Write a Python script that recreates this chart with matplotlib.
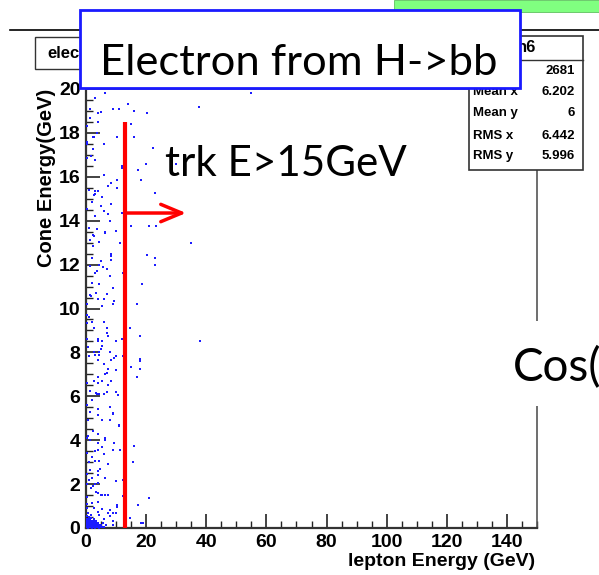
import matplotlib
matplotlib.use('Agg')
import matplotlib.pyplot as plt
import numpy as np
from matplotlib.patches import Rectangle
from matplotlib.lines import Line2D

W, H = 599, 575

# (lepton energy, cone energy), GeV
upper = [(6.4, 19.8), (3.0, 19.6), (10.9, 19.1), (13.9, 19.3), (8.9, 19.1), (16.0, 19.0),
         (1.4, 19.1), (5.0, 18.95), (4.0, 18.9), (20.4, 18.9), (1.3, 18.7), (4.0, 18.5),
         (0.3, 18.3), (15.0, 18.4), (3.8, 18.0), (2.8, 17.8), (2.4, 17.8), (10.4, 17.8),
         (16.0, 17.8), (0.2, 17.6), (0.2, 17.5), (5.9, 17.5), (22.4, 17.3), (2.4, 17.25),
         (0.3, 16.85), (1.6, 16.95), (3.0, 16.75), (11.9, 16.5), (11.9, 16.4), (20.0, 16.6),
         (17.4, 16.3), (6.0, 16.1), (10.4, 15.85), (18.4, 15.85), (8.3, 15.7), (7.4, 15.6),
         (10.4, 15.5), (1.0, 15.4), (3.0, 15.35), (3.9, 15.35), (3.0, 15.2), (2.8, 15.15),
         (5.3, 15.1), (22.9, 15.25), (2.0, 14.85), (8.4, 14.75), (0.4, 14.55), (5.0, 14.65),
         (5.9, 14.45), (7.4, 14.3), (11.9, 14.35), (3.0, 14.2), (8.0, 14.0), (1.0, 13.65),
         (3.5, 13.6), (6.4, 13.5), (10.0, 13.55), (15.0, 13.75), (21.0, 13.75), (23.4, 13.75),
         (2.4, 13.35)]

middle = [(2.5, 13.3), (6.3, 13.45), (1.3, 13.1), (4.4, 13.05), (11.4, 13.0), (2.4, 12.85),
          (8.4, 12.5), (8.4, 12.4), (20.4, 12.45), (22.8, 12.3), (1.9, 12.3), (8.4, 12.2),
          (4.9, 12.15), (22.8, 12.0), (1.2, 11.95), (4.3, 12.0), (5.7, 11.9), (6.9, 11.8),
          (3.7, 11.7), (3.1, 11.6), (12.3, 11.6), (8.0, 11.5), (1.9, 11.15), (4.4, 11.1),
          (18.5, 11.1), (8.9, 10.95), (3.4, 10.7), (6.9, 10.65), (1.3, 10.6), (1.7, 10.55),
          (4.1, 10.45), (5.9, 10.45), (9.4, 10.35), (0.2, 10.2), (5.4, 10.1), (8.9, 10.2),
          (16.9, 10.2), (0.3, 9.7), (0.9, 9.6), (5.9, 9.4), (0.3, 9.35), (1.9, 9.4),
          (2.5, 9.1), (6.9, 9.1), (14.5, 9.1), (6.9, 8.9), (7.4, 8.75), (17.8, 8.75),
          (0.3, 8.6), (4.0, 8.6), (11.9, 8.6), (4.0, 8.5), (5.4, 8.5), (10.0, 8.5),
          (5.4, 8.3), (0.7, 8.25), (4.9, 8.15), (2.7, 8.0), (4.3, 8.0), (8.0, 8.0),
          (0.9, 7.85), (2.9, 7.9), (4.3, 7.9), (10.0, 7.85), (9.4, 7.75), (12.4, 7.85),
          (17.8, 7.7), (17.8, 7.6), (8.4, 7.65), (4.0, 7.65), (6.0, 7.45), (15.0, 7.35),
          (7.4, 7.25), (17.8, 7.25), (10.0, 7.2), (6.4, 7.0), (4.0, 6.9), (16.9, 6.9),
          (7.0, 7.05), (2.5, 6.7), (5.4, 6.7), (8.4, 6.7)]

lower = [(7.4, 6.5), (3.9, 6.6), (1.2, 6.25), (3.4, 6.15), (3.8, 6.1), (4.3, 6.1),
         (5.9, 6.1), (6.9, 6.2), (10.0, 6.2), (10.5, 6.05), (1.9, 5.85), (7.9, 5.5),
         (1.2, 5.3), (3.9, 5.4), (8.9, 5.25), (8.9, 5.2), (3.9, 5.15), (12.6, 5.25),
         (0.8, 4.9), (5.3, 4.9), (8.1, 4.9), (10.9, 4.65), (10.9, 4.7), (2.4, 4.4),
         (3.9, 4.3), (0.3, 4.1), (0.8, 4.2), (6.4, 4.1), (6.4, 4.0), (1.3, 4.0),
         (3.9, 3.85), (9.4, 3.85), (8.9, 3.55), (11.4, 3.55), (15.9, 3.75), (5.4, 3.7),
         (3.9, 3.55), (3.0, 3.5), (1.9, 3.25), (5.9, 3.35), (3.0, 3.05), (4.3, 3.05),
         (1.1, 3.0), (7.4, 2.9), (15.5, 3.0), (4.7, 2.7), (1.3, 2.65), (0.3, 2.45),
         (3.9, 2.6), (3.9, 2.4), (1.9, 2.3), (6.4, 2.3), (1.1, 2.2), (10.0, 2.15),
         (12.4, 2.2), (0.3, 2.0), (3.0, 2.0), (3.9, 2.05), (2.3, 1.9), (1.6, 1.8),
         (3.4, 1.65), (3.9, 1.6), (5.4, 1.5), (6.4, 1.5), (7.3, 1.5), (0.3, 1.4),
         (4.9, 1.5), (12.4, 1.45), (20.8, 1.35), (1.9, 1.15), (3.9, 1.2), (10.4, 1.05),
         (10.4, 0.95), (17.4, 1.05), (0.3, 0.9), (2.7, 0.9), (5.4, 0.85), (8.0, 0.8),
         (8.9, 0.7), (10.0, 0.7), (3.9, 0.75), (1.6, 0.6), (4.4, 0.6), (7.4, 0.7),
         (8.0, 0.55), (5.9, 0.4), (8.9, 0.3), (14.5, 0.45), (18.4, 0.25), (19.1, 0.25),
         (8.9, 0.15), (0.2, 5.6), (0.4, 3.4), (0.2, 1.1), (0.5, 0.7), (0.2, 6.6)]

core = [(0.1, 0.03), (0.4, 0.05), (0.7, 0.02), (1.0, 0.04), (1.3, 0.03), (1.6, 0.05),
        (1.9, 0.02), (2.2, 0.04), (2.5, 0.03), (2.8, 0.05), (3.1, 0.02), (3.4, 0.04),
        (3.7, 0.03), (4.0, 0.05), (4.4, 0.02), (4.8, 0.04), (5.3, 0.03), (6.1, 0.05),
        (0.2, 0.13), (0.5, 0.12), (0.9, 0.14), (1.2, 0.11), (1.5, 0.13), (1.8, 0.12),
        (2.1, 0.14), (2.4, 0.11), (2.7, 0.13), (3.0, 0.12), (3.3, 0.14), (3.6, 0.11),
        (3.9, 0.13), (4.3, 0.12), (4.9, 0.14), (0.1, 0.22), (0.4, 0.23), (0.8, 0.21),
        (1.1, 0.22), (1.4, 0.24), (1.7, 0.21), (2.0, 0.23), (2.3, 0.22), (2.6, 0.24),
        (2.9, 0.21), (3.2, 0.23), (3.6, 0.22), (4.1, 0.24), (0.3, 0.32), (0.6, 0.33),
        (1.0, 0.31), (1.3, 0.34), (1.6, 0.32), (2.0, 0.33), (2.4, 0.31), (2.8, 0.34),
        (3.3, 0.32), (0.2, 0.42), (0.7, 0.43), (1.2, 0.41), (1.8, 0.44), (2.5, 0.42),
        (6.8, 0.15), (5.6, 0.25), (0.3, 0.55), (1.0, 0.5)]

far = [(37.5, 19.2), (55.0, 19.8), (30.0, 16.6), (35.0, 13.0), (38.0, 8.5)]

stat_names = ['Entries', 'Mean x', 'Mean y', 'RMS x', 'RMS y']
stat_values = ['2681', '6.202', '6', '6.442', '5.996']

cut_x, cut_top = 13.1, 18.5        # red "trk E>15GeV" marker line
arrow_y, arrow_end = 14.35, 33.3

pts = np.array(upper + middle + lower + core + far)

plt.rcParams['font.family'] = ['Liberation Sans', 'DejaVu Sans']
slide_font = ['Lato', 'DejaVu Sans']


def fx(px):
    return px / W


def fy(py):
    return 1 - py / H


fig = plt.figure(figsize=(W / 100, H / 100), dpi=100)
ax = fig.add_axes([fx(86), fy(528), 451 / W, 439 / H])

ax.scatter(pts[:, 0], pts[:, 1], marker='s', s=2.6, color='#1c1cff', linewidths=0, zorder=3)
ax.set_xlim(0, 150)
ax.set_ylim(0, 20)
ax.set_xticks(np.arange(0, 141, 20))
ax.set_yticks(np.arange(0, 21, 2))
ax.set_xticks(np.arange(0, 151, 5), minor=True)
ax.set_yticks(np.arange(0, 20.01, 0.5), minor=True)
ax.tick_params(which='both', direction='in', top=False, right=False, color='#222222')
ax.tick_params(which='major', length=10, width=1.2, labelsize=14)
ax.tick_params(which='minor', length=5, width=1.0)
ax.tick_params(axis='x', pad=4)
ax.tick_params(axis='y', pad=4)
for lab in ax.get_xticklabels() + ax.get_yticklabels():
    lab.set_fontweight('bold')
for side in ['left', 'bottom']:
    ax.spines[side].set_linewidth(1.6)
    ax.spines[side].set_color('#333333')
for side in ['right', 'top']:
    ax.spines[side].set_linewidth(1.2)
    ax.spines[side].set_color('#555555')

fig.text(fx(535), fy(566), 'lepton Energy (GeV)', ha='right', va='baseline',
         fontsize=14, fontweight='bold')
fig.text(fx(47), fy(89), 'Cone Energy(GeV)', ha='center', va='top', rotation=90,
         fontsize=14.5, fontweight='bold')

# red cut line with arrow
ax.plot([cut_x, cut_x], [0, cut_top], color='red', lw=3, clip_on=False, zorder=6,
        solid_capstyle='butt')
ax.annotate('', xy=(arrow_end, arrow_y), xytext=(cut_x, arrow_y),
            arrowprops=dict(arrowstyle='->,head_length=0.6,head_width=0.25',
                            color='red', lw=2.5, mutation_scale=25,
                            shrinkA=0, shrinkB=0), zorder=6)
fig.text(fx(165), fy(176), 'trk E>15GeV', ha='left', va='baseline', fontsize=30.3,
         family=slide_font)

# slide furniture
fig.add_artist(Rectangle((fx(394), fy(12)), 205 / W, 12 / H, transform=fig.transFigure,
                         facecolor='#80ff80', edgecolor='#60c060', lw=0.6, zorder=5))
fig.add_artist(Line2D([fx(10), fx(599)], [fy(29.5), fy(29.5)], transform=fig.transFigure,
                      color='black', lw=1.2, zorder=5))

# ROOT title pave (mostly hidden)
fig.add_artist(Rectangle((fx(35), fy(69)), 120 / W, 32 / H, transform=fig.transFigure,
                         facecolor='white', edgecolor='#333333', lw=1.0, zorder=6))
fig.text(fx(47), fy(53), 'electron', ha='left', va='center', fontsize=12,
         fontweight='bold', zorder=7)

# stats pave
fig.add_artist(Rectangle((fx(469), fy(170)), 114 / W, 134 / H, transform=fig.transFigure,
                         facecolor='white', edgecolor='#333333', lw=1.2, zorder=6))
fig.add_artist(Line2D([fx(469), fx(583)], [fy(60), fy(60)], transform=fig.transFigure,
                      color='#333333', lw=1.0, zorder=7))
fig.text(fx(527), fy(48), 'h6', ha='center', va='center', fontsize=12,
         fontweight='bold', zorder=7)
row_y = [71, 92, 113, 136, 156]
for name, val, ry in zip(stat_names, stat_values, row_y):
    fig.text(fx(473), fy(ry), name, ha='left', va='center', fontsize=9.5,
             fontweight='bold', zorder=7)
    fig.text(fx(575), fy(ry), val, ha='right', va='center', fontsize=9.5,
             fontweight='bold', zorder=7)

# blue title box
fig.add_artist(Rectangle((fx(80), fy(88)), 440 / W, 78 / H, transform=fig.transFigure,
                         facecolor='white', edgecolor='#1a1aff', lw=2.0, zorder=8))
fig.text(fx(100), fy(75), 'Electron from H->bb', ha='left', va='baseline', fontsize=31.3,
         family=slide_font, zorder=9)

# "Cos(" box covering the frame edge
fig.add_artist(Rectangle((fx(505), fy(406)), 94 / W, 85 / H, transform=fig.transFigure,
                         facecolor='white', edgecolor='none', zorder=8))
fig.text(fx(513), fy(381), 'Cos(', ha='left', va='baseline', fontsize=33,
         family=slide_font, zorder=9)

fig.savefig('out.png', dpi=100)
